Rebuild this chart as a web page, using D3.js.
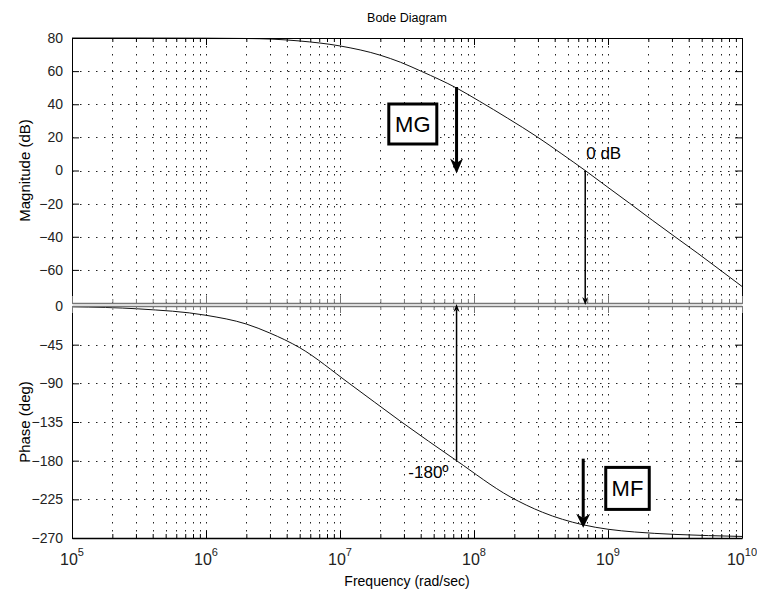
<!DOCTYPE html>
<html>
<head>
<meta charset="utf-8">
<script src="https://cdn.jsdelivr.net/npm/d3@7"></script>
<style>
body { margin: 0; background: #fff; }
svg { font-family: "Liberation Sans", Arial, sans-serif; }
</style>
</head>
<body>
<svg></svg>
<script>
let magFreq = [1e5, 3.16e5, 1e6, 2e6, 3.16e6, 5e6, 1e7, 2e7, 2.82e7, 4.07e7, 7.41e7, 1.1e8, 1.78e8, 2.95e8, 4.47e8, 6.76e8, 1e9, 1.45e9, 2.14e9, 3.16e9, 4.68e9, 6.85e9, 1e10];
let magDb = [80, 80, 79.9, 79.7, 79.3, 78.2, 75.2, 69.6, 65.4, 59.8, 49.8, 41.8, 31.6, 20.4, 10.3, 0, -10.2, -19.8, -30, -40, -50, -60, -70];

let phaseFreq = [1e5, 3.16e5, 1e6, 2e6, 3e6, 5e6, 1.17e7, 2.82e7, 7.41e7, 1.86e8, 3.24e8, 6.46e8, 1e9, 1.58e9, 3.16e9, 5.62e9, 1e10];
let phaseDeg = [-0.9, -3.4, -10.8, -21, -31.5, -48.5, -90, -134, -180, -222, -240, -254.5, -259.8, -263, -265.8, -267.2, -268.2];

let decades = [1e5, 1e6, 1e7, 1e8, 1e9, 1e10];
let decadeExp = ["5", "6", "7", "8", "9", "10"];
let magTicks = [80, 60, 40, 20, 0, -20, -40, -60];
let phaseTicks = [0, -45, -90, -135, -180, -225, -270];

// marges (-180 punt en 0 dB punt)
let wPhase = 7.41e7, wGain = 6.76e8;
let magAtPhase = 49.8, phaseAtGain = -254.5;

let svgWidth = 757, svgHeight = 595;
let left = 72, right = 742;
let magTop = 38, magBottom = 303, phTop = 306, phBottom = 538;

let svg = d3.select("svg")
    .attr("width", svgWidth)
    .attr("height", svgHeight);

let x = d3.scaleLog().domain([1e5, 1e10]).range([left, right]);
let yMag = d3.scaleLinear().domain([-80, 80]).range([magBottom, magTop]);
let yPh = d3.scaleLinear().domain([-270, 0]).range([phBottom, phTop]);

let allTicks = x.ticks(); // 1..9 per decade
let minorTicks = allTicks.filter(d => decades.indexOf(d) < 0);

// een paneel tekenen: grid, ticks, lijn
function panel(y, top, bottom, yTicks, freqs, vals, topColor, bottomColor) {
    let g = svg.append("g");

    // dotted grid
    g.selectAll(".vg")
        .data(allTicks.filter(d => d > 1e5 && d < 1e10))
        .enter()
        .append("line")
        .attr("x1", d => Math.round(x(d)) + 0.5)
        .attr("x2", d => Math.round(x(d)) + 0.5)
        .attr("y1", top)
        .attr("y2", bottom)
        .attr("stroke", "#222")
        .attr("stroke-dasharray", "1.5,6.5");

    g.selectAll(".hg")
        .data(yTicks.filter(d => y(d) > top + 1 && y(d) < bottom - 1))
        .enter()
        .append("line")
        .attr("x1", left)
        .attr("x2", right)
        .attr("y1", d => Math.round(y(d)) + 0.5)
        .attr("y2", d => Math.round(y(d)) + 0.5)
        .attr("stroke", "#222")
        .attr("stroke-dasharray", "1.5,6.5");

    // de curve
    let clipId = "clip" + top;
    svg.append("clipPath").attr("id", clipId)
        .append("rect")
        .attr("x", left).attr("y", top - 1)
        .attr("width", right - left).attr("height", bottom - top + 2);

    let line = d3.line()
        .x((d, i) => x(freqs[i]))
        .y(d => y(d))
        .curve(d3.curveMonotoneX);

    g.append("path")
        .datum(vals)
        .attr("clip-path", "url(#" + clipId + ")")
        .attr("d", line)
        .attr("fill", "none")
        .attr("stroke", "#111")
        .attr("stroke-width", 1);

    // assen met ticks naar binnen
    let yl = g.append("g").attr("transform", "translate(" + left + ",0)")
        .call(d3.axisLeft(y).tickValues(yTicks).tickSizeInner(-7).tickSizeOuter(0).tickPadding(9));
    let yr = g.append("g").attr("transform", "translate(" + right + ",0)")
        .call(d3.axisRight(y).tickValues(yTicks).tickSizeInner(-7).tickSizeOuter(0).tickFormat(""));
    let xb = g.append("g").attr("transform", "translate(0," + bottom + ")")
        .call(d3.axisBottom(x).tickValues(decades).tickSizeInner(-7).tickSizeOuter(0).tickFormat(""));
    let xbm = g.append("g").attr("transform", "translate(0," + bottom + ")")
        .call(d3.axisBottom(x).tickValues(minorTicks).tickSizeInner(-4).tickSizeOuter(0).tickFormat(""));
    let xt = g.append("g").attr("transform", "translate(0," + top + ")")
        .call(d3.axisTop(x).tickValues(decades).tickSizeInner(-7).tickSizeOuter(0).tickFormat(""));
    let xtm = g.append("g").attr("transform", "translate(0," + top + ")")
        .call(d3.axisTop(x).tickValues(minorTicks).tickSizeInner(-4).tickSizeOuter(0).tickFormat(""));

    yl.selectAll("text").attr("font-size", 14).attr("fill", "#222");
    [yl, yr, xb, xbm, xt, xtm].forEach(a => {
        a.selectAll("line").attr("stroke", "#000");
        a.select(".domain").attr("stroke", "#000");
    });
    xb.selectAll("line").attr("stroke", bottomColor);
    xbm.selectAll("line").attr("stroke", bottomColor);
    xb.select(".domain").attr("stroke", bottomColor).attr("stroke-width", 1.5);
    xbm.select(".domain").attr("stroke", "none");
    xt.selectAll("line").attr("stroke", topColor);
    xtm.selectAll("line").attr("stroke", topColor);
    xt.select(".domain").attr("stroke", topColor).attr("stroke-width", topColor == "#000" ? 1 : 1.5);
    xtm.select(".domain").attr("stroke", "none");
    return g;
}

panel(yMag, magTop, magBottom, magTicks, magFreq, magDb, "#000", "#777");
let ph = panel(yPh, phTop, phBottom, phaseTicks, phaseFreq, phaseDeg, "#777", "#000");

// x tick labels 10^n
let xl = svg.selectAll(".xlab")
    .data(decades)
    .enter()
    .append("text")
    .attr("x", d => x(d))
    .attr("y", 565)
    .attr("text-anchor", "middle")
    .attr("font-size", 16)
    .attr("fill", "#222");
xl.append("tspan").text("10");
xl.append("tspan").text((d, i) => decadeExp[i]).attr("dy", -9).attr("font-size", 11);

// titels
svg.append("text").attr("x", (left + right) / 2).attr("y", 22)
    .attr("text-anchor", "middle").attr("font-size", 12.5).text("Bode Diagram");
svg.append("text").attr("x", (left + right) / 2).attr("y", 586)
    .attr("text-anchor", "middle").attr("font-size", 14).text("Frequency  (rad/sec)");
svg.append("text")
    .attr("transform", "translate(30," + (magTop + magBottom) / 2 + ") rotate(-90)")
    .attr("text-anchor", "middle").attr("font-size", 15).text("Magnitude (dB)");
svg.append("text")
    .attr("transform", "translate(30," + (phTop + phBottom) / 2 + ") rotate(-90)")
    .attr("text-anchor", "middle").attr("font-size", 15).text("Phase (deg)");

// pijlen
function arrow(ax, y1, y2, w, headLen, headW) {
    let dir = y2 > y1 ? 1 : -1;
    svg.append("line")
        .attr("x1", ax).attr("x2", ax)
        .attr("y1", y1).attr("y2", y2 - dir * headLen * 0.7)
        .attr("stroke", "#000").attr("stroke-width", w);
    svg.append("path")
        .attr("d", "M" + ax + "," + y2 +
            "L" + (ax - headW / 2) + "," + (y2 - dir * headLen) +
            "L" + ax + "," + (y2 - dir * headLen * 0.7) +
            "L" + (ax + headW / 2) + "," + (y2 - dir * headLen) + "Z")
        .attr("fill", "#000");
}

arrow(x(wPhase), yMag(magAtPhase) - 1, yMag(0) + 3, 3, 15, 13);
arrow(x(wGain), yMag(0), magBottom + 2, 1.5, 8, 6);
arrow(x(wPhase), yPh(-180), magBottom + 1, 1.5, 8, 6);
arrow(x(wGain) - 2, yPh(-180) - 2, yPh(phaseAtGain) + 3, 3, 14, 14);

svg.append("text").attr("x", x(wGain) + 1).attr("y", 159)
    .attr("font-size", 17).text("0 dB");
svg.append("text").attr("x", x(wPhase) - 8).attr("y", 478)
    .attr("text-anchor", "end").attr("font-size", 17).text("-180º");

// MG en MF kaders
function box(cx, cy, w, h, label) {
    svg.append("rect")
        .attr("x", cx - w / 2).attr("y", cy - h / 2)
        .attr("width", w).attr("height", h)
        .attr("fill", "#fff").attr("stroke", "#000").attr("stroke-width", 3);
    svg.append("text").attr("x", cx).attr("y", cy + 8)
        .attr("text-anchor", "middle").attr("font-size", 22).text(label);
}
box(412.8, 124, 48, 40, "MG");
box(627.5, 488.4, 43.5, 42, "MF");
</script>
</body>
</html>
